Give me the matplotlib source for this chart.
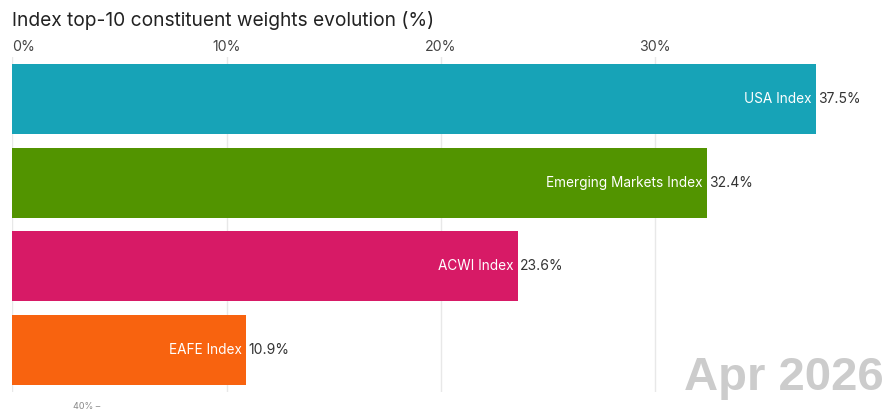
import matplotlib
matplotlib.use("Agg")
import matplotlib.pyplot as plt

# data
names = ["USA Index", "Emerging Markets Index", "ACWI Index", "EAFE Index"]
weights = [37.5, 32.4, 23.6, 10.9]
colors = ["#17a3b7", "#529400", "#d71a66", "#f8630f"]
tick_vals = [0, 10, 20, 30]
tick_labels = ["0%", "10%", "20%", "30%"]
date_label = "Apr 2026"
title = "Index top-10 constituent weights evolution (%)"

W, H = 887, 411
fig = plt.figure(figsize=(W / 100, H / 100), dpi=100)

# axes placed in pixel terms: x=0 at 12.4px, 10% = 214.3px
x0 = 12.4
px_per = 21.43
xmax = 40
ax = fig.add_axes([x0 / W, 19 / H, xmax * px_per / W, 335 / H])

ypos = list(range(len(names)))
ax.barh(ypos, weights, height=0.835, color=colors, zorder=2)

for y, n, v in zip(ypos, names, weights):
    ax.text(v - 0.2, y, n, ha="right", va="center", color="white",
            fontsize=9.8, family="Inter", zorder=3)
    ax.text(v + 0.1, y, f"{v:.1f}%", ha="left", va="center", color="#333333",
            fontsize=10, family="Inter", zorder=3)

ax.set_ylim(len(names) - 0.5, -0.5)
ax.set_xlim(0, xmax)
ax.set_yticks([])
ax.set_xticks(tick_vals)
ax.set_xticklabels(tick_labels, family="Inter", fontsize=10.2, color="#444444")
ax.xaxis.tick_top()
ax.tick_params(axis="x", length=0, pad=2.5)
ax.get_xticklabels()[0].set_horizontalalignment("left")
for s in ax.spines.values():
    s.set_visible(False)
ax.grid(axis="x", color="#e8e8e8", linewidth=1, zorder=0)

fig.text(12 / W, 1 - 20 / H, title, ha="left", va="center", fontsize=13.8,
         family="Inter", color="#222222")

fig.text(884 / W, 1 - 390 / H, date_label, ha="right", va="baseline",
         fontsize=34, fontweight="bold", family="Liberation Sans", color="#cccccc")

# small partial axis label at the bottom edge
fig.text(73 / W, 1 - 402 / H, "40% \u2013", ha="left", va="top", fontsize=6.5,
         family="Inter", color="#888888")

fig.savefig("out.png", dpi=100)
